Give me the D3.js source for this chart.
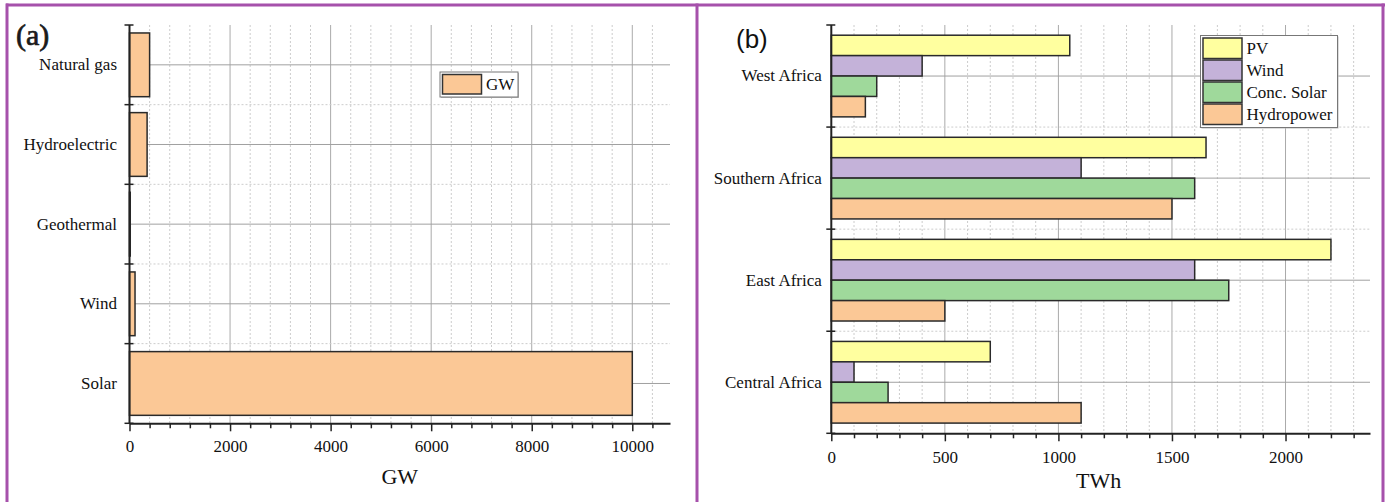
<!DOCTYPE html>
<html>
<head>
<meta charset="utf-8">
<script src="https://cdn.jsdelivr.net/npm/d3@7"></script>
<style>
  html, body { margin: 0; padding: 0; background: #fff; }
</style>
</head>
<body>
<svg id="chart" width="1387" height="502"></svg>
<script>
// Panel (a): installed potential by source
const sourcesA = ["Natural gas", "Hydroelectric", "Geothermal", "Wind", "Solar"];
const capacityGW = [400, 350, 15, 110, 10000];
const ticksGW = [0, 2000, 4000, 6000, 8000, 10000];

// Panel (b): generation by region and technology
const regions = ["West Africa", "Southern Africa", "East Africa", "Central Africa"];
const techs = ["PV", "Wind", "Conc. Solar", "Hydropower"];
const pvTWh = [1050, 1650, 2200, 700];
const windTWh = [400, 1100, 1600, 100];
const cspTWh = [200, 1600, 1750, 250];
const hydroTWh = [150, 1500, 500, 1100];
const ticksTWh = [0, 500, 1000, 1500, 2000];

const techColors = ["#ffff9f", "#c4b2d9", "#9fd99b", "#fbc896"];
const barA = "#fbc896";
const frame = "#a651ab";
const SERIF = '"Liberation Serif"';
const SANS = '"Liberation Sans"';

const svg = d3.select("#chart");
svg.append("rect").attr("width", 1387).attr("height", 502).attr("fill", "#fff");

// grid for a horizontal bar panel
function panel(g, x, y, majors, minorStep, xMaxTick) {
  const [x0, x1] = x.range();
  const [y0, y1] = y.range();
  const step = y.step();
  const n = y.domain().length;
  const minors = d3.range(0, xMaxTick + 1, minorStep).filter(v => !majors.includes(v));

  // vertical grid
  g.append("g").selectAll("line").data(minors).join("line")
    .attr("x1", d => x(d)).attr("x2", d => x(d))
    .attr("y1", y0).attr("y2", y1)
    .attr("stroke", "#cccccc").attr("stroke-width", 1).attr("stroke-dasharray", "2,2");
  g.append("g").selectAll("line").data(majors.filter(v => v > 0)).join("line")
    .attr("x1", d => x(d)).attr("x2", d => x(d))
    .attr("y1", y0).attr("y2", y1)
    .attr("stroke", "#aaaaaa").attr("stroke-width", 1);

  // horizontal grid: dotted at band edges, solid at band centres
  const edges = d3.range(0, n).map(i => y0 + i * step);
  g.append("g").selectAll("line").data(edges.slice(1)).join("line")
    .attr("x1", x0).attr("x2", x1)
    .attr("y1", d => d).attr("y2", d => d)
    .attr("stroke", "#cccccc").attr("stroke-width", 1).attr("stroke-dasharray", "2,2");
  g.append("g").selectAll("line").data(y.domain()).join("line")
    .attr("x1", x0).attr("x2", x1)
    .attr("y1", d => y(d) + y.bandwidth() / 2).attr("y2", d => y(d) + y.bandwidth() / 2)
    .attr("stroke", "#a0a0a0").attr("stroke-width", 1);

  return { edges, minors };
}

// axes: bottom value axis with minor ticks, left category axis with band-edge ticks
function axes(g, x, y, info, majors, labelPad, tickPad) {
  const [y0, y1] = y.range();
  const ax = g.append("g").attr("transform", `translate(0,${y1})`)
    .call(d3.axisBottom(x).tickValues(majors).tickSize(8).tickSizeOuter(0).tickPadding(tickPad).tickFormat(d3.format("d")));
  ax.select(".domain").attr("stroke", "#222").attr("stroke-width", 2);
  ax.selectAll(".tick line").attr("stroke", "#222").attr("stroke-width", 1.5);
  ax.selectAll("text").attr("font-size", 17).attr("fill", "#111").style("font-family", SERIF);
  const mx = g.append("g").attr("transform", `translate(0,${y1})`)
    .call(d3.axisBottom(x).tickValues(info.minors).tickSize(5).tickSizeOuter(0).tickFormat(""));
  mx.select(".domain").remove();
  mx.selectAll(".tick line").attr("stroke", "#222").attr("stroke-width", 1.5);

  const ay = g.append("g").attr("transform", `translate(${x.range()[0]},0)`)
    .call(d3.axisLeft(y).tickSize(0).tickPadding(labelPad));
  ay.select(".domain").remove();
  ay.selectAll("text").attr("font-size", 17).attr("fill", "#111").style("font-family", SERIF);
  g.append("line")
    .attr("x1", x.range()[0]).attr("x2", x.range()[0])
    .attr("y1", y0).attr("y2", y1)
    .attr("stroke", "#222").attr("stroke-width", 2);
  const edges = info.edges.concat([y1]);
  g.append("g").selectAll("line").data(edges).join("line")
    .attr("x1", x.range()[0] - 5).attr("x2", x.range()[0] + 4)
    .attr("y1", d => d).attr("y2", d => d)
    .attr("stroke", "#222").attr("stroke-width", 1.5);
}

// ---------- Panel (a) ----------
const gA = svg.append("g");
const xA = d3.scaleLinear().domain([0, 10750]).range([129.5, 670]);
const yA = d3.scaleBand().domain(sourcesA).range([25, 423.3]).paddingInner(0.2).paddingOuter(0.1);
const infoA = panel(gA, xA, yA, ticksGW, 400, 10400);

gA.append("g").selectAll("rect").data(sourcesA).join("rect")
  .attr("x", xA(0))
  .attr("y", d => yA(d))
  .attr("width", (d, i) => xA(capacityGW[i]) - xA(0))
  .attr("height", yA.bandwidth())
  .attr("fill", barA).attr("stroke", "#2a2a2a").attr("stroke-width", 1.5);

axes(gA, xA, yA, infoA, ticksGW, 12.5, 8.5);

gA.append("text").attr("x", (xA.range()[0] + xA.range()[1]) / 2).attr("y", 484)
  .attr("text-anchor", "middle").attr("font-size", 22).attr("fill", "#111")
  .style("font-family", SERIF).text("GW");
gA.append("text").attr("x", 16).attr("y", 45).attr("font-size", 30)
  .attr("fill", "#1a1a1a").attr("stroke", "#1a1a1a").attr("stroke-width", 0.7)
  .style("font-family", SERIF).text("(a)");

// legend (a)
const legA = gA.append("g").attr("transform", "translate(440,72)");
legA.append("rect").attr("x", 1).attr("y", 1).attr("width", 78).attr("height", 25).attr("fill", "#bbb");
legA.append("rect").attr("width", 78).attr("height", 25).attr("fill", "#fff").attr("stroke", "#777").attr("stroke-width", 1);
legA.append("rect").attr("x", 2.5).attr("y", 2.5).attr("width", 39).attr("height", 19.5)
  .attr("fill", barA).attr("stroke", "#333").attr("stroke-width", 1.5);
legA.append("text").attr("x", 46).attr("y", 12.5).attr("dy", "0.34em")
  .attr("font-size", 17).attr("fill", "#111").style("font-family", SERIF).text("GW");

// ---------- Panel (b) ----------
const gB = svg.append("g");
const xB = d3.scaleLinear().domain([0, 2372]).range([831.3, 1370]);
const yB = d3.scaleBand().domain(regions).range([25, 433.3]).paddingInner(0.2).paddingOuter(0.1);
const yInner = d3.scaleBand().domain(techs).range([0, yB.bandwidth()]);
const infoB = panel(gB, xB, yB, ticksTWh, 100, 2300);

const seriesB = [pvTWh, windTWh, cspTWh, hydroTWh];
const cells = [];
regions.forEach((r, ri) => techs.forEach((t, ti) => cells.push({ r, t, ti, v: seriesB[ti][ri] })));
gB.append("g").selectAll("rect").data(cells).join("rect")
  .attr("x", xB(0))
  .attr("y", d => yB(d.r) + yInner(d.t))
  .attr("width", d => xB(d.v) - xB(0))
  .attr("height", yInner.bandwidth())
  .attr("fill", d => techColors[d.ti]).attr("stroke", "#2a2a2a").attr("stroke-width", 1.5);

axes(gB, xB, yB, infoB, ticksTWh, 9.5, 9.7);

gB.append("text").attr("x", (xB.range()[0] + xB.range()[1]) / 2 - 2).attr("y", 488)
  .attr("text-anchor", "middle").attr("font-size", 22).attr("fill", "#111")
  .style("font-family", SERIF).text("TWh");
gB.append("text").attr("x", 736).attr("y", 47.5).attr("font-size", 26)
  .attr("fill", "#111").style("font-family", SANS).text("(b)");

// legend (b)
const legB = gB.append("g").attr("transform", "translate(1200.5,35.5)");
legB.append("rect").attr("x", 1).attr("y", 1).attr("width", 137).attr("height", 92).attr("fill", "#bbb");
legB.append("rect").attr("width", 137).attr("height", 92).attr("fill", "#fff").attr("stroke", "#777").attr("stroke-width", 1);
const rowY = d3.scaleBand().domain(techs).range([2, 90]);
legB.selectAll("rect.sw").data(techs).join("rect").attr("class", "sw")
  .attr("x", 2.5).attr("y", d => rowY(d) + 0.5)
  .attr("width", 39).attr("height", rowY.bandwidth() - 1.5)
  .attr("fill", (d, i) => techColors[i]).attr("stroke", "#333").attr("stroke-width", 1.5);
legB.selectAll("text").data(techs).join("text")
  .attr("x", 46).attr("y", d => rowY(d) + rowY.bandwidth() / 2).attr("dy", "0.34em")
  .attr("font-size", 17).attr("fill", "#111").style("font-family", SERIF).text(d => d);

// ---------- panel frames ----------
const fr = svg.append("g").attr("stroke", frame).attr("stroke-width", 3).attr("fill", "none");
fr.append("line").attr("x1", 6).attr("x2", 1385).attr("y1", 5).attr("y2", 5);
[7, 697, 1383].forEach(xv => fr.append("line").attr("x1", xv).attr("x2", xv).attr("y1", 3.5).attr("y2", 502));
</script>
</body>
</html>
